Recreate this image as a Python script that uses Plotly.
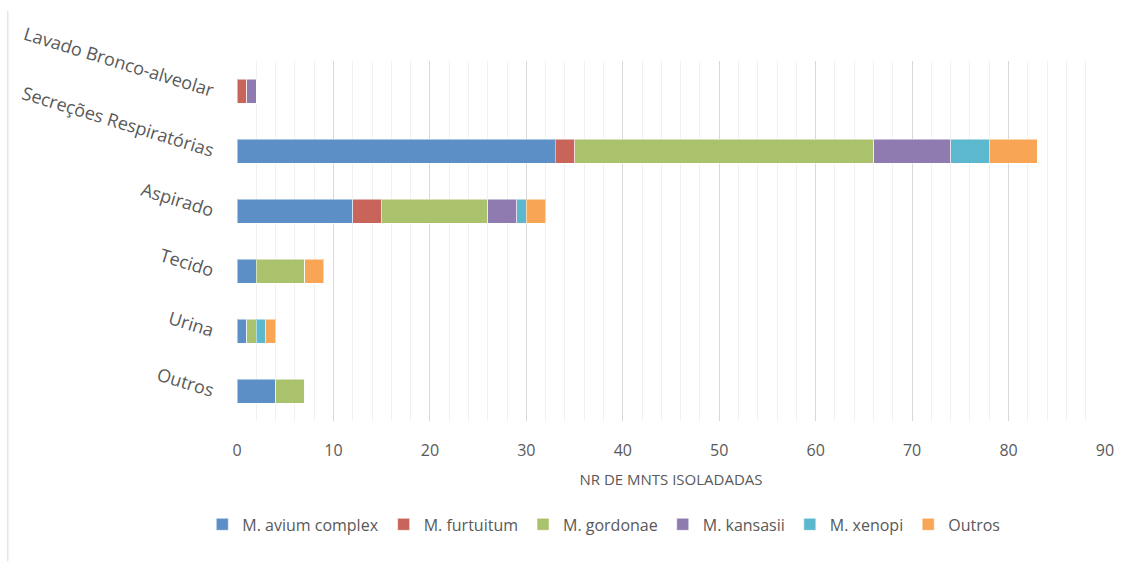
import plotly.graph_objects as go

categories = ["Lavado Bronco-alveolar", "Secreções Respiratórias", "Aspirado", "Tecido", "Urina", "Outros"]
series_names = ["M. avium complex", "M. furtuitum", "M. gordonae", "M. kansasii", "M. xenopi", "Outros"]
avium = [0, 33, 12, 2, 1, 4]
furtuitum = [1, 2, 3, 0, 0, 0]
gordonae = [0, 31, 11, 5, 1, 3]
kansasii = [1, 8, 3, 0, 0, 0]
xenopi = [0, 4, 1, 0, 1, 0]
outros = [0, 5, 2, 2, 1, 0]
x_ticks = [0, 10, 20, 30, 40, 50, 60, 70, 80, 90]

colors = ["#5B8FC5", "#C9645A", "#ABC26C", "#8F7BB0", "#5BB8CE", "#F8A655"]
values = [avium, furtuitum, gordonae, kansasii, xenopi, outros]

fig = go.Figure()
for name, vals, col in zip(series_names, values, colors):
    fig.add_trace(go.Bar(
        y=categories, x=vals, name=name, orientation="h",
        marker=dict(color=col, line=dict(color="rgba(255,255,255,0.5)", width=1)),
        width=0.4,
    ))

font_fam = "Open Sans, Liberation Sans, sans-serif"
fig.update_layout(
    barmode="stack",
    width=1128, height=563,
    margin=dict(l=237, r=23, t=61, b=142),
    paper_bgcolor="white", plot_bgcolor="white",
    font=dict(family=font_fam, color="#595959"),
    xaxis=dict(
        range=[0, 90], tickvals=x_ticks, showgrid=True, gridcolor="#D9D9D9", gridwidth=1,
        minor=dict(dtick=2, showgrid=True, gridcolor="#F0F0F0", gridwidth=1),
        zeroline=False, showline=False, ticks="",
        tickfont=dict(size=16, color="#595959"), ticklabelstandoff=18,
        title=dict(text="NR DE MNTS ISOLADADAS", font=dict(size=15, color="#595959"), standoff=14),
    ),
    yaxis=dict(
        categoryorder="array", categoryarray=categories, autorange="reversed",
        tickangle=17, tickfont=dict(size=18, color="#595959"), ticks="",
        showgrid=False, zeroline=False, ticklabelstandoff=22,
    ),
    legend=dict(orientation="h", x=-0.04, xanchor="left", y=-0.24, yanchor="top",
                font=dict(size=16, color="#595959"), traceorder="normal", itemwidth=30),
    showlegend=True,
)
fig.add_shape(type="line", xref="paper", yref="paper", x0=-0.264, x1=-0.264, y0=-0.39, y1=1.14,
              line=dict(color="#D9D9D9", width=1))

fig.write_html("out.html")
